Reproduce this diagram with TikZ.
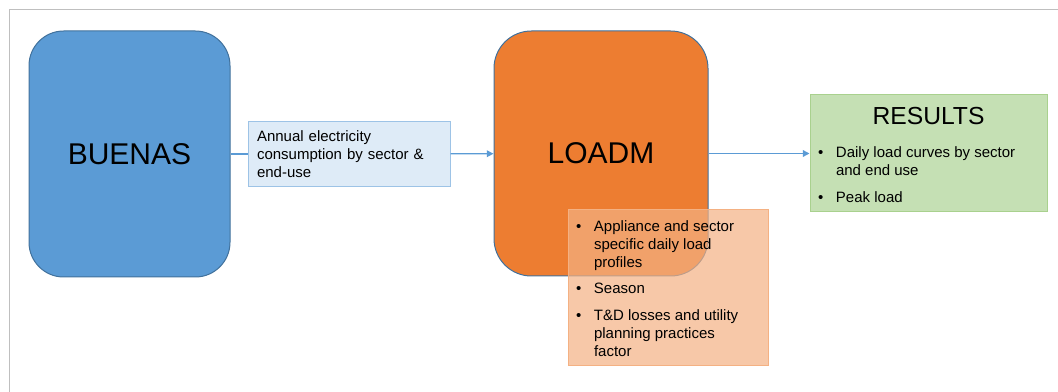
\documentclass[tikz,border=0pt]{standalone}
\usepackage{fontspec}
\setmainfont{Liberation Sans}
\usetikzlibrary{arrows.meta, positioning}
\definecolor{modelblue}{HTML}{5B9BD5}
\definecolor{modeledge}{HTML}{41719C}
\definecolor{modelorange}{HTML}{ED7D31}
\definecolor{paleblue}{HTML}{DEEBF7}
\definecolor{paleblueedge}{HTML}{9DC3E6}
\definecolor{palegreen}{HTML}{C5E0B4}
\definecolor{palegreenedge}{HTML}{A9D18E}
\definecolor{peach}{HTML}{F4B183}
\definecolor{framegray}{HTML}{BFBFBF}
\tikzstyle{model} = [rectangle, rounded corners=26pt, draw=modeledge, line width=0.75pt, minimum width=150.75pt, minimum height=184.5pt, text centered, font=\fontsize{22.5}{27}\selectfont]
\tikzstyle{flowbox} = [rectangle, draw=paleblueedge, fill=paleblue, line width=0.75pt, minimum height=48.75pt, text width=138pt, inner xsep=6.75pt, align=left, font=\fontsize{11.25}{13.5}\selectfont]
\tikzstyle{listbox} = [rectangle, line width=0.75pt, inner xsep=6pt, inner ysep=0pt, font=\fontsize{11.25}{13.5}\selectfont]
\tikzstyle{arrow} = [draw=modelblue, line width=1pt, -{Triangle[length=5pt,width=5pt]}]

\begin{document}
\begin{tikzpicture}[x=0.75pt, y=-0.75pt]
    \useasboundingbox (0,0) rectangle (1058,392);

    % Frame
    \draw [framegray, line width=1.2pt] (1058,9.5) -- (9.5,9.5) -- (9.5,392);

    % Nodes
    \node (buenas) [model, fill=modelblue] at (129.5,154) {BUENAS};
    \node (annual) [flowbox, right=12.75pt of buenas] {Annual electricity\\consumption by sector \&\\end-use};
    \node (loadm) [model, fill=modelorange, minimum width=160.5pt, minimum height=183.75pt, rounded corners=28pt] at (601,153.5) {LOADM};
    \node (results) [listbox, fill=palegreen, draw=palegreenedge, minimum width=177.75pt, minimum height=87.75pt, right=75.75pt of loadm] {%
        \begin{tabular}{@{}p{13.5pt}@{}p{152.25pt}@{}}
        \multicolumn{2}{@{}c@{}}{\rule{0pt}{19.5pt}\fontsize{18.5}{22}\selectfont RESULTS}\\[11.25pt]
        \textbullet & Daily load curves by sector\\
        & and end use\\[6.75pt]
        \textbullet & Peak load
        \end{tabular}};
    \node (inputs) [listbox, fill=peach, fill opacity=0.7, text opacity=1, draw=peach, minimum width=150pt, minimum height=117pt] at (668,288) {%
        \begin{tabular}{@{}p{13.5pt}@{}p{124.5pt}@{}}
        \textbullet & \rule{0pt}{13pt}Appliance and sector\\
        & specific daily load\\
        & profiles\\[6.5pt]
        \textbullet & Season\\[6.5pt]
        \textbullet & T\&D losses and utility\\
        & planning practices\\
        & factor
        \end{tabular}};

    % Arrows
    \draw [draw=modelblue, line width=1pt] (buenas) -- (annual);
    \draw [arrow] (annual) -- (loadm);
    \draw [arrow] (loadm) -- (results);

\end{tikzpicture}
\end{document}
